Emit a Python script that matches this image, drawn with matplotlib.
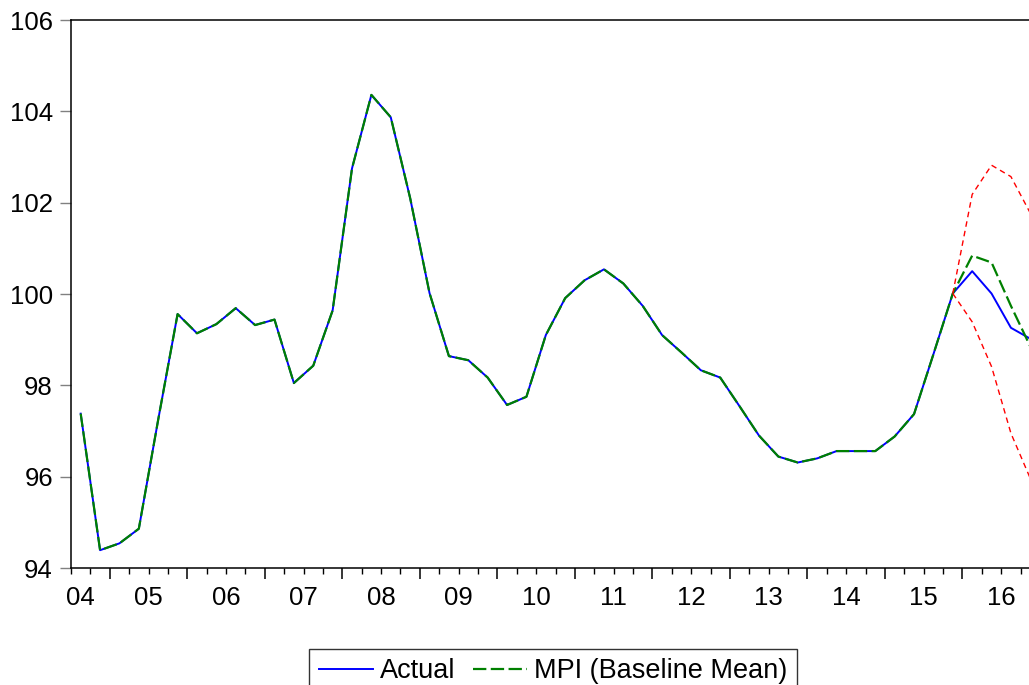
# -*- coding: utf-8 -*-
"""
Actual vs MPI (Baseline Mean) con bandas de pronostico, trimestral 2004Q3-2016Q4.
"""

# =============================================================================
# 1. Librerias
# =============================================================================
import numpy as np
import matplotlib.pyplot as plt

plt.rcParams['font.family'] = ['Liberation Sans', 'DejaVu Sans']


# =============================================================================
# 2. Datos
# =============================================================================
ANIOS = ['04', '05', '06', '07', '08', '09', '10', '11', '12', '13', '14', '15', '16']

# serie observada, un valor por trimestre desde 2004Q3
actual = [97.38, 94.39, 94.54, 94.86, 97.25, 99.56, 99.14, 99.34, 99.69, 99.32,
          99.44, 98.05, 98.43, 99.64, 102.75, 104.36, 103.87, 102.10, 100.02, 98.64,
          98.55, 98.17, 97.57, 97.75, 99.10, 99.91, 100.30, 100.54, 100.23, 99.74,
          99.10, 98.72, 98.33, 98.17, 97.54, 96.90, 96.44, 96.31, 96.40, 96.56,
          96.56, 96.56, 96.88, 97.37, 98.68, 100.01, 100.50, 100.01, 99.26, 99.02]

# MPI: igual a la historia hasta 2015Q4, luego la media del escenario base
mpi = actual[:46] + [100.84, 100.69, 99.74, 98.85]

# bandas del pronostico (desde 2015Q4)
INICIO_PRON = 45
banda_sup = [100.01, 102.18, 102.82, 102.57, 101.77]
banda_inf = [100.01, 99.39, 98.41, 96.95, 95.96]

t = np.arange(len(actual))
t_pron = np.arange(INICIO_PRON, INICIO_PRON + len(banda_sup))


# =============================================================================
# 3. Figura
# =============================================================================
W, H = 1029, 685
fig = plt.figure(figsize=(W / 100, H / 100), dpi=100)
# el eje sigue mas alla del borde derecho (el original esta recortado)
ax = fig.add_axes([71 / W, 117 / H, 969 / W, 548 / H])

ax.plot(t, actual, color='#0000ff', lw=1.4, label='Actual')
ax.plot(t, mpi, color='#008000', lw=1.6, dashes=(6, 2), label='MPI (Baseline Mean)')
ax.plot(t_pron, banda_sup, color='#ff0000', lw=1.0, dashes=(4, 3))
ax.plot(t_pron, banda_inf, color='#ff0000', lw=1.0, dashes=(4, 3))

ax.set_xlim(-0.5, len(actual) - 0.5)
ax.set_ylim(94, 106)

# eje y
ax.set_yticks(np.arange(94, 107, 2))
ax.tick_params(axis='y', length=8, width=1, color='#808080', pad=5, labelsize=18.5)

# eje x: marcas largas entre anios, cortas entre trimestres, etiqueta al centro
limites_anio = np.arange(1.5, len(actual), 4)
limites_trim = np.arange(-0.5, len(actual) + 0.5, 1)
ax.set_xticks(limites_anio)
ax.set_xticklabels([])
ax.set_xticks(limites_trim, minor=True)
ax.tick_params(axis='x', which='major', length=8, width=1.1, color='black')
ax.tick_params(axis='x', which='minor', length=4.3, width=1.0, color='black')

for k, lbl in enumerate(ANIOS):
    pos = 0 if k == 0 else 3.5 + 4 * (k - 1)
    ax.annotate(lbl, xy=(pos, 0), xycoords=('data', 'axes fraction'),
                xytext=(0, -37), textcoords='offset pixels',
                ha='center', va='baseline', fontsize=18.5)

for lado in ['left', 'bottom', 'top', 'right']:
    ax.spines[lado].set_linewidth(1.1)

leg = fig.legend(loc='upper center', bbox_to_anchor=(553 / W, 1 - 649 / H),
                 ncol=2, frameon=True, fancybox=False, edgecolor='black',
                 fontsize=19.5, handlelength=2.0, handletextpad=0.26,
                 columnspacing=0.63, borderpad=0.35, borderaxespad=0)
leg.get_frame().set_linewidth(1.0)

fig.savefig('out.png', dpi=100)
